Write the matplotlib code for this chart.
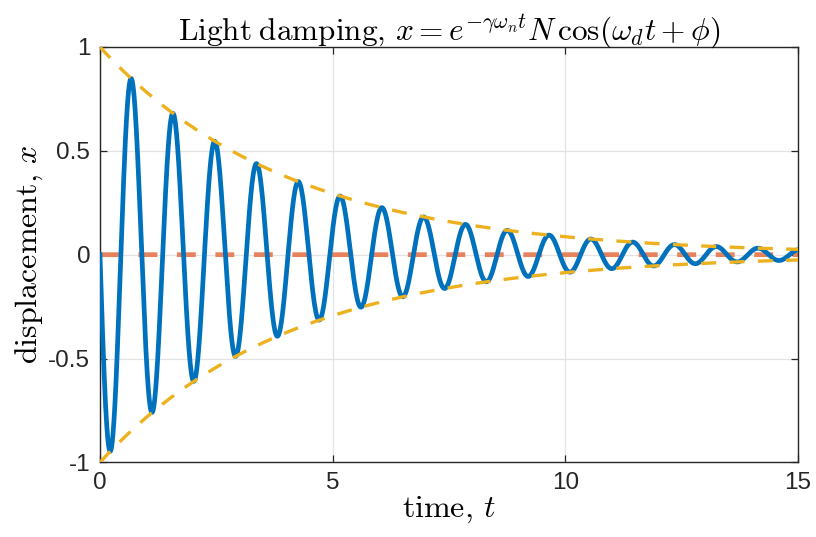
import numpy as np
import matplotlib.pyplot as plt

plt.rcParams['mathtext.fontset'] = 'cm'
plt.rcParams['font.family'] = ['Liberation Sans', 'DejaVu Sans']

# oscillator parameters
omega_n = 7.0
gamma = 0.035
N = 1.0
phi = np.pi / 2
t_max = 15

x_ticks = [0, 5, 10, 15]
y_ticks = [-1, -0.5, 0, 0.5, 1]
y_tick_labels = ['-1', '-0.5', '0', '0.5', '1']

t = np.linspace(0, t_max, 3000)
omega_d = omega_n * np.sqrt(1 - gamma**2)
env = N * np.exp(-gamma * omega_n * t)
x = env * np.cos(omega_d * t + phi)

fig = plt.figure(figsize=(8.16, 5.37), dpi=100)
ax = fig.add_axes([0.1225, 0.139, 0.8555, 0.7735])

ax.plot(t, np.zeros_like(t), color='#E8825C', lw=3.4, ls=(0, (4.0, 4.15)), zorder=2)
ax.plot(t, x, color='#0072BD', lw=3.4, zorder=3)
ax.plot(t, env, color='#EDB120', lw=2.4, ls=(0, (4.5, 4.0)), zorder=4)
ax.plot(t, -env, color='#EDB120', lw=2.4, ls=(0, (4.5, 4.0)), zorder=4)

ax.set_xlim(0, t_max)
ax.set_ylim(-1, 1)
ax.set_xticks(x_ticks)
ax.set_yticks(y_ticks)
ax.set_yticklabels(y_tick_labels)
ax.grid(True, color='#e3e3e3', lw=0.9)
ax.set_axisbelow(True)
ax.tick_params(direction='in', top=True, right=True, length=5, width=0.9,
               labelsize=17.5, colors='#262626', pad=7)
for s in ax.spines.values():
    s.set_color('#262626')
    s.set_linewidth(1.0)

ax.set_title(r'$\mathrm{Light\;damping,}\,x=e^{-\gamma\omega_n t}N\,\cos(\omega_d t+\phi)$',
             fontsize=22.5, pad=5)
ax.set_xlabel(r'$\mathrm{time,}\,t$', fontsize=23, labelpad=0)
ax.set_ylabel(r'$\mathrm{displacement,}\,x$', fontsize=23, labelpad=2)

fig.savefig('out.png', dpi=100)
